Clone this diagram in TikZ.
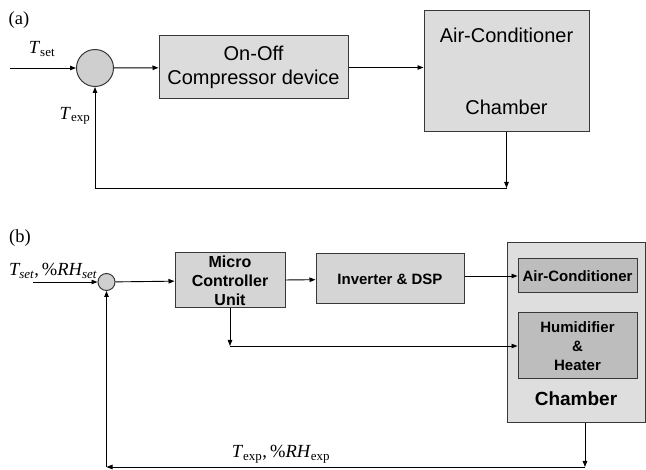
\documentclass[tikz,border=0pt]{standalone}
\usepackage{fontspec}
\setmainfont{Liberation Serif}
\newfontfamily\arialfont{Liberation Sans}
\usepackage{xcolor}
\usetikzlibrary{arrows.meta,positioning}
\definecolor{edge}{HTML}{383838}
\definecolor{boxgray}{HTML}{DCDCDC}
\definecolor{sumgray}{HTML}{CFCFCF}
\definecolor{unitgray}{HTML}{D5D5D5}
\definecolor{roomgray}{HTML}{DEDEDE}
\definecolor{partgray}{HTML}{BDBDBD}

\begin{document}
\begin{tikzpicture}[
  x=1pt,y=-1pt,
  blk/.style={draw=edge,line width=1pt,fill=boxgray,inner sep=0pt,align=center,
    font=\arialfont\fontsize{20}{24}\selectfont},
  unit/.style={blk,fill=unitgray,font=\arialfont\bfseries\fontsize{15}{19}\selectfont},
  part/.style={unit,fill=partgray},
  sumnode/.style={circle,draw=edge,line width=1pt,fill=sumgray,inner sep=0pt},
  sig/.style={font=\fontsize{18.5}{20}\selectfont,inner sep=0pt},
  arr/.style={-{Triangle[length=6pt,width=4.5pt]},draw=black,line width=0.9pt}
]
\fill[white] (0,0) rectangle (646,470);

% (a) on-off loop
\node[sig] (tagA) at (19,20) {(a)};
\coordinate (inA) at (10,68);
\node[sumnode,minimum size=37pt] (sumA) at (95,68) {};
\node[blk,minimum width=189pt,minimum height=63pt] (comp) at (253.5,67.5) {On-Off\\Compressor device};
\node[blk,minimum width=165pt,minimum height=121pt] (acA) at (506.5,71.5) {Air-Conditioner\\[48pt]Chamber};
\coordinate (fbA) at (506.5,188);
\node[sig] (tsetA) at (42,49) {\textit{T}\textsubscript{set}};
\node[sig] (texpA) at (75,116) {\textit{T}\textsubscript{exp}};
\draw[arr] (inA) -- (sumA);
\draw[arr] (sumA) -- (comp);
\draw[arr] (comp.east) -- (comp.east -| acA.west);
\draw[arr] (acA.south) -- (fbA);
\draw[arr] (fbA) -- (fbA -| sumA) -- (sumA.south);

% (b) micro controller loop
\node[sig] (tagB) at (20,238) {(b)};
\coordinate (inB) at (33,282);
\node[sumnode,minimum size=17pt] (sumB) at (106.5,282) {};
\node[unit,minimum width=110pt,minimum height=55pt,font=\arialfont\bfseries\fontsize{16}{19}\selectfont] (mcu) at (230,280.5) {Micro\\Controller\\Unit};
\node[unit,minimum width=148pt,minimum height=50pt] (inv) at (390,279) {Inverter \& DSP};
\node[blk,fill=roomgray,minimum width=138pt,minimum height=180pt] (chamber) at (576,333) {};
\node[font=\arialfont\bfseries\fontsize{19}{22}\selectfont,inner sep=0pt,anchor=base] (chamberlbl) at ([yshift=18pt]chamber.south) {Chamber};
\node[part,minimum width=119pt,minimum height=34pt] (acB) at (577.5,276) {Air-Conditioner};
\node[part,minimum width=119pt,minimum height=66pt] (heat) at (577.5,346) {Humidifier\\\&\\Heater};
\coordinate (fbB) at (585,467);
\node[sig] (tsetB) at (53,271) {\textit{T\textsubscript{set}},\,\%\textit{RH\textsubscript{set}}};
\node[sig] (texpB) at (281,454) {\textit{T}\textsubscript{exp},\,\%\textit{RH}\textsubscript{exp}};
\draw[arr] (inB) -- (sumB);
\draw[arr] (sumB) -- (mcu);
\draw[arr] (mcu) -- (inv);
\draw[arr] (inv.east |- acB.west) -- (acB.west);
\draw[arr] (mcu.south) -- (mcu.south |- heat.west);
\draw[arr] (mcu.south |- heat.west) -- (heat.west);
\draw[arr] (chamber.south -| fbB) -- (fbB);
\draw[arr] (fbB) -- (fbB -| sumB);
\draw[arr] (fbB -| sumB) -- (sumB.south);
\end{tikzpicture}
\end{document}
